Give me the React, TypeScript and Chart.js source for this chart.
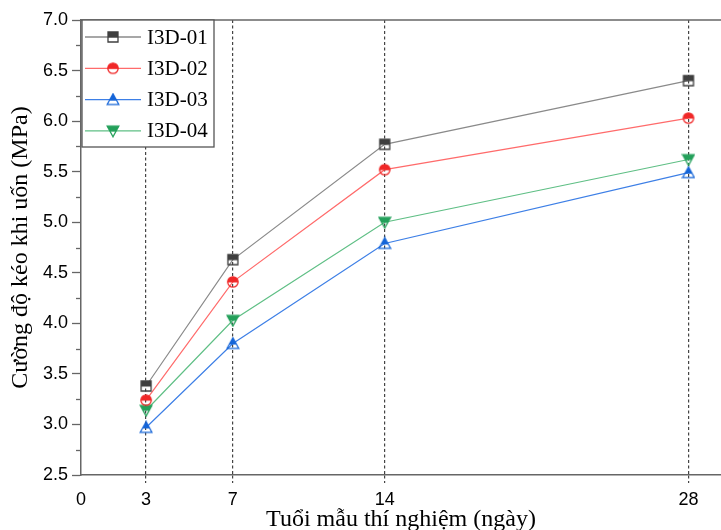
import { useEffect, useRef } from 'react';
import { Chart, registerables } from 'chart.js';

Chart.register(...registerables);

const ages = [3, 7, 14, 28];
const s01 = [3.38, 4.63, 5.77, 6.4];
const s02 = [3.24, 4.41, 5.52, 6.03];
const s03 = [2.97, 3.8, 4.79, 5.49];
const s04 = [3.14, 4.03, 5.0, 5.62];
const seriesNames = ['I3D-01', 'I3D-02', 'I3D-03', 'I3D-04'];
const xTickValues = [0, 3, 7, 14, 28];
const yTitle = 'Cường độ kéo khi uốn (MPa)';
const xTitle = 'Tuổi mẫu thí nghiệm (ngày)';

const markerColors = ['#3f3f3f', '#f02828', '#1565d8', '#23a05a'];
const lineColors = ['#8a8a8a', '#ff6b6b', '#3d7fe6', '#5fbf85'];
const shapes = ['square', 'circle', 'triUp', 'triDown'];

const AXIS = '#666666';

function makeMarker(shape: string, color: string): HTMLCanvasElement {
  const c = document.createElement('canvas');
  c.width = 14;
  c.height = 14;
  const ctx = c.getContext('2d')!;
  const path = () => {
    ctx.beginPath();
    if (shape === 'square') {
      ctx.rect(2, 2, 10, 10);
    } else if (shape === 'circle') {
      ctx.arc(7, 7, 5.2, 0, Math.PI * 2);
    } else if (shape === 'triUp') {
      ctx.moveTo(7, 1.2);
      ctx.lineTo(1.2, 11.8);
      ctx.lineTo(12.8, 11.8);
      ctx.closePath();
    } else {
      ctx.moveTo(1.2, 2.2);
      ctx.lineTo(12.8, 2.2);
      ctx.lineTo(7, 12.8);
      ctx.closePath();
    }
  };
  ctx.save();
  ctx.beginPath();
  ctx.rect(0, 0, 14, shape === 'triUp' ? 8 : 7.5);
  ctx.clip();
  path();
  ctx.fillStyle = color;
  ctx.fill();
  ctx.restore();
  path();
  ctx.lineWidth = 1.3;
  ctx.strokeStyle = color;
  ctx.stroke();
  return c;
}

export default function App() {
  const ref = useRef<HTMLCanvasElement | null>(null);

  useEffect(() => {
    if (!ref.current) return;
    const markers = shapes.map((s, i) => makeMarker(s, markerColors[i]));
    const seriesValues = [s01, s02, s03, s04];

    const datasets = seriesValues.map((vals, i) => ({
      label: seriesNames[i],
      data: ages.map((a, j) => ({ x: a, y: vals[j] })),
      borderColor: lineColors[i],
      backgroundColor: markerColors[i],
      borderWidth: 1.2,
      pointStyle: markers[i] as any,
      pointRadius: 6,
      tension: 0,
    }));

    const framePlugin = {
      id: 'frame',
      afterDraw(chart: any) {
        const { ctx, chartArea, scales } = chart;
        const y = scales.y;
        ctx.save();
        // top frame line
        ctx.strokeStyle = AXIS;
        ctx.lineWidth = 1.5;
        ctx.beginPath();
        ctx.moveTo(chartArea.left, chartArea.top);
        ctx.lineTo(chartArea.right, chartArea.top);
        ctx.stroke();
        // minor ticks on y axis
        ctx.lineWidth = 1.3;
        for (let v = 2.75; v < 7; v += 0.5) {
          const py = Math.round(y.getPixelForValue(v)) + 0.5;
          ctx.beginPath();
          ctx.moveTo(chartArea.left - 5, py);
          ctx.lineTo(chartArea.left, py);
          ctx.stroke();
        }
        // legend box
        const bx = chartArea.left + 1;
        const by = chartArea.top;
        const bw = 132;
        const bh = 127;
        ctx.fillStyle = '#ffffff';
        ctx.fillRect(bx, by, bw, bh);
        ctx.strokeStyle = '#555555';
        ctx.lineWidth = 1.3;
        ctx.strokeRect(bx, by, bw, bh);
        ctx.font = '21px "Liberation Serif", "Times New Roman", serif';
        ctx.textBaseline = 'middle';
        ctx.textAlign = 'left';
        for (let i = 0; i < seriesNames.length; i++) {
          const ry = by + 17 + i * 31.3;
          ctx.strokeStyle = lineColors[i];
          ctx.lineWidth = 1.3;
          ctx.beginPath();
          ctx.moveTo(bx + 3, ry);
          ctx.lineTo(bx + 59, ry);
          ctx.stroke();
          ctx.drawImage(markers[i], bx + 31 - 7, ry - 7);
          ctx.fillStyle = '#000000';
          ctx.fillText(seriesNames[i], bx + 65, ry + 1);
        }
        ctx.restore();
      },
    };

    const chart = new Chart(ref.current, {
      type: 'line',
      data: { datasets },
      options: {
        animation: false,
        responsive: false,
        devicePixelRatio: 1,
        layout: { autoPadding: false, padding: { left: 0, right: 0, top: 20, bottom: 0 } },
        plugins: { legend: { display: false }, tooltip: { enabled: false } },
        scales: {
          x: {
            type: 'linear',
            min: 0,
            max: 29.5,
            afterBuildTicks: (scale: any) => {
              scale.ticks = xTickValues.map((v) => ({ value: v }));
            },
            afterFit: (scale: any) => {
              scale.height = 70;
              scale.paddingLeft = 0;
              scale.paddingRight = 0;
            },
            grid: {
              color: (ctx: any) => (ctx.tick && ctx.tick.value === 0 ? 'rgba(0,0,0,0)' : '#444444'),
              lineWidth: 1.2,
              tickLength: 8,
              tickBorderDash: [3, 2.5],
              tickColor: (ctx: any) => (ctx.tick && ctx.tick.value === 0 ? 'rgba(0,0,0,0)' : '#444444'),
              tickWidth: 1.2,
            },
            border: { display: true, color: AXIS, width: 1.5, dash: [3, 2.5] },
            ticks: {
              autoSkip: false,
              maxRotation: 0,
              padding: 6,
              color: '#000000',
              font: { family: '"Liberation Sans", Arial, sans-serif', size: 18 },
              callback: (v: any) => String(v),
            },
            title: {
              display: true,
              text: xTitle,
              color: '#000000',
              font: { family: '"Liberation Serif", "Times New Roman", serif', size: 24 },
              padding: { top: 0, bottom: 11 },
            },
          },
          y: {
            min: 2.5,
            max: 7,
            afterFit: (scale: any) => {
              scale.width = 81;
            },
            grid: {
              drawOnChartArea: false,
              tickLength: 9,
              tickColor: AXIS,
              tickWidth: 1.3,
            },
            border: { display: true, color: AXIS, width: 1.5 },
            ticks: {
              stepSize: 0.5,
              padding: 4,
              color: '#000000',
              font: { family: '"Liberation Sans", Arial, sans-serif', size: 18 },
              callback: (v: any) => Number(v).toFixed(1),
            },
            title: {
              display: true,
              text: yTitle,
              color: '#000000',
              font: { family: '"Liberation Serif", "Times New Roman", serif', size: 24 },
              padding: { top: 6, bottom: 0 },
            },
          },
        },
      },
      plugins: [framePlugin],
    } as any);

    return () => chart.destroy();
  }, []);

  return (
    <div
      style={{
        position: 'absolute',
        left: 0,
        top: 0,
        width: 721,
        height: 530,
        overflow: 'hidden',
        background: '#ffffff',
      }}
    >
      <canvas ref={ref} width={721} height={545} style={{ display: 'block' }} />
    </div>
  );
}
